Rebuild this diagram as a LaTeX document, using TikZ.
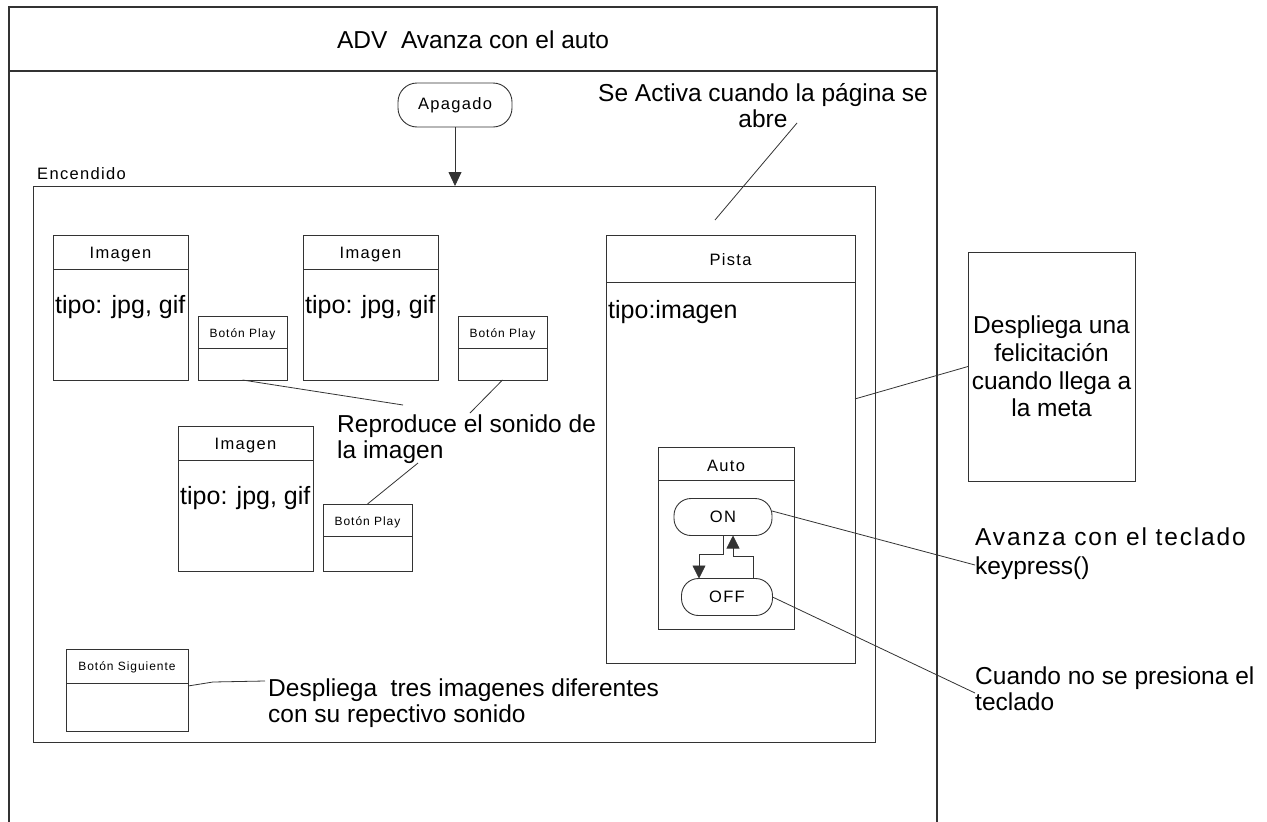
\documentclass[tikz,border=0pt]{standalone}
\usepackage{fontspec}
\setmainfont{Liberation Sans}
\newfontfamily\lab[LetterSpace=8]{Liberation Sans}
\usetikzlibrary{arrows.meta,calc}
\definecolor{ln}{gray}{0.2}
\begin{document}
\begin{tikzpicture}[x=1pt,y=-1pt,
  frame/.style={draw=ln, line width=1.2pt},
  box/.style={draw=ln, line width=1pt, inner sep=0pt, outer sep=0pt, anchor=north west},
  state/.style={draw=ln, line width=0.9pt, rounded corners=17pt, inner sep=0pt, outer sep=0pt},
  big/.style={font=\fontsize{24.5}{26}\selectfont, inner sep=0pt},
  tipo/.style={font=\fontsize{25}{27}\selectfont, inner sep=0pt, anchor=base west},
  small/.style={font=\lab\fontsize{16.5}{18}\selectfont, inner sep=0pt},
  tiny/.style={font=\lab\fontsize{12}{13}\selectfont, inner sep=0pt},
  divl/.style={draw=ln, line width=1pt},
  conn/.style={draw=ln, line width=0.8pt},
  arr/.style={conn, -{Triangle[length=14pt,width=13pt]}},
  sarr/.style={conn, -{Triangle[length=13pt,width=13pt]}}]
\fill[white] (0,0) rectangle (1267,822);
\useasboundingbox (0,0) rectangle (1267,822);
% outer frame
\draw[frame] (9,822) -- (9,7) -- (937,7) -- (937,822);
\draw[frame] (9,71) -- (937,71);
\node[big, anchor=base] (title) at (473,48) {ADV~ Avanza con el auto};
% Apagado
\node[state, rounded corners=19pt, minimum width=114pt, minimum height=44pt] (apag) at (455,105) {\lab\fontsize{16.5}{18}\selectfont Apagado};
% Encendido
\node[box, minimum width=842pt, minimum height=556pt] (enc) at (33,186) {};
\node[small, anchor=base west] (enclab) at (37,179) {Encendido};
\draw[arr] (apag.south) -- (apag.south |- enc.north);
% Imagen boxes
\foreach \n/\x/\y in {img1/53/235, img2/303/235, img3/178/426}{
  \node[box, minimum width=135pt, minimum height=145pt] (\n) at (\x,\y) {};
  \draw[divl] ($(\n.north west)+(0,34)$) -- ($(\n.north east)+(0,34)$);
  \node[small, anchor=base] (\n h) at ($(\n.north)+(0,23)$) {Imagen};
  \node[tipo] (\n t) at ($(\n.north west)+(2,78)$) {tipo: jpg, gif};
}
% Boton Play boxes
\foreach \n/\x/\y/\h in {bp1/198/316/64, bp2/458/316/64, bp3/323/504/67}{
  \node[box, minimum width=89pt, minimum height=\h pt] (\n) at (\x,\y) {};
  \draw[divl] ($(\n.north west)+(0,32)$) -- ($(\n.north east)+(0,32)$);
  \node[tiny, anchor=base] (\n h) at ($(\n.north)+(0,21)$) {Botón Play};
}
% Reproduce text
\node[big, align=left, anchor=north west] (repro) at (337,415) {Reproduce el sonido de\\la imagen};
\coordinate (r1) at (403,405);
\coordinate (r2) at (470,413);
\coordinate (r3) at (418,463);
\draw[conn] (bp1.south) -- (r1);
\draw[conn] (bp2.south) -- (r2);
\draw[conn] (bp3.north) -- (r3);
% Pista
\node[box, minimum width=249pt, minimum height=428pt] (pista) at (606,235) {};
\draw[divl] ($(pista.north west)+(0,47)$) -- ($(pista.north east)+(0,47)$);
\node[small, anchor=base] (pistah) at ($(pista.north)+(0,30)$) {Pista};
\node[tipo] (pistat) at ($(pista.north west)+(2,83)$) {tipo:imagen};
% Auto
\node[box, minimum width=136pt, minimum height=182pt] (auto) at (658,447) {};
\draw[divl] ($(auto.north west)+(0,33)$) -- ($(auto.north east)+(0,33)$);
\node[small, anchor=base] (autoh) at ($(auto.north)+(0,24)$) {Auto};
\node[state, minimum width=98pt, minimum height=37pt] (on) at (723,517) {\lab\fontsize{16.5}{18}\selectfont ON};
\node[state, minimum width=91pt, minimum height=37pt] (off) at (727,597) {\lab\fontsize{16.5}{18}\selectfont OFF};
\draw[sarr] (on.south) -- ++(0,19) -| ([xshift=-28pt]off.north);
\draw[sarr] ([xshift=26pt]off.north) -- ++(0,-22) -| ([xshift=10pt]on.south);
% Se activa
\node[big, align=center, anchor=north] (activa) at (763,83) {Se Activa cuando la página se\\abre};
\coordinate (a1) at (797,123);
\coordinate (a2) at (715,220);
\draw[conn] (a1) -- (a2);
% Felicitacion
\node[box, minimum width=167pt, minimum height=229pt, align=center, font=\fontsize{24.5}{27.7}\selectfont] (feli) at (968,252) {Despliega una\\felicitación\\cuando llega a\\la meta};
\draw[conn] ($(pista.north east)!0.383!(pista.south east)$) -- (feli.west);
% keypress
\node[big, align=left, anchor=north west, font=\fontsize{24.5}{28.5}\selectfont] (kp) at (975,528) {{\addfontfeature{LetterSpace=7.5}Avanza con el teclado}\\keypress()};
\coordinate (k1) at (975,565);
\draw[conn] ([yshift=6pt]on.east) -- (k1);
% no presiona
\node[big, align=left, anchor=north west] (np) at (975,667) {Cuando no se presiona el\\teclado};
\coordinate (k2) at (975,693);
\draw[conn] (off.east) -- (k2);
% Boton Siguiente
\node[box, minimum width=122pt, minimum height=82pt] (bs) at (66,649) {};
\draw[divl] ($(bs.north west)+(0,34)$) -- ($(bs.north east)+(0,34)$);
\node[tiny, anchor=base] (bsh) at ($(bs.north)+(0,21)$) {Botón Siguiente};
\node[big, align=left, anchor=north west] (desp) at (268,679) {Despliega~ tres imagenes diferentes\\con su repectivo sonido};
\coordinate (d1) at (265,681);
\draw[conn] ([yshift=4pt]bs.east) -- ++(25,-4) -- (d1);
\end{tikzpicture}
\end{document}
